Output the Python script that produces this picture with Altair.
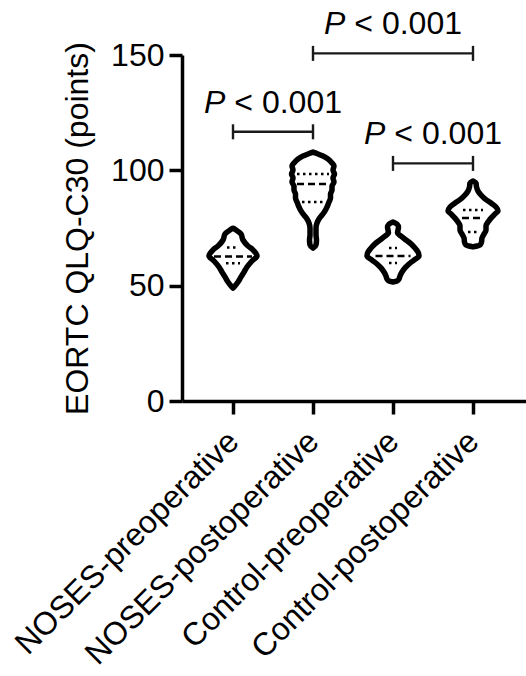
import altair as alt
import pandas as pd

FONT = "Liberation Sans"

GROUPS = ["NOSES-preoperative", "NOSES-postoperative",
          "Control-preoperative", "Control-postoperative"]
GROUP_POS = [1, 2, 3, 4]

# Violin outlines: score (points) and half-width (px-like density units)
V1_SCORE = [74.9, 74.1, 72.4, 69.8, 67.2, 65.5, 62.9, 60.7, 58.1, 55.9, 53.8, 51.6, 49.9, 49.0]
V1_WIDTH = [0, 3, 8, 10, 15, 20, 24, 19, 14, 11, 8, 5, 2, 0]

V2_SCORE = [107.9, 107.1, 106.2, 104.9, 103.2, 101.9, 100.1, 98.4, 96.7, 94.9, 93.2, 91.5,
            89.7, 88.0, 86.3, 84.1, 82.4, 80.6, 78.9, 77.2, 75.0, 72.0, 69.8, 67.6, 66.3]
V2_WIDTH = [0, 5, 10, 15, 19, 21, 20, 21.5, 20, 21, 19, 19, 17.5, 17.5, 16, 14, 12, 9, 6, 4,
            3, 3, 3.5, 3, 0]

V3_SCORE = [77.6, 76.7, 75.4, 74.1, 72.8, 71.5, 69.8, 68.1, 66.3, 64.6, 62.9, 61.1, 59.4,
            57.7, 55.9, 54.2, 52.9, 52.0, 51.6]
V3_WIDTH = [0, 4, 5.5, 5, 4.5, 8, 13, 18, 22, 25, 26, 21, 16, 12, 9, 7, 6, 4, 0]

V4_SCORE = [95.4, 94.5, 92.8, 91.0, 89.3, 87.6, 85.8, 84.1, 82.4, 81.1, 79.3, 77.6, 75.9,
            74.1, 72.4, 70.7, 68.9, 67.6, 66.8]
V4_WIDTH = [0, 3, 3.5, 5, 8, 12, 18, 23, 25, 22, 18, 15, 13, 13, 11, 9, 8.5, 7, 0]

# Median and quartile lines
MEDIAN = [62.6, 94.1, 62.9, 79.3]
MEDIAN_W = [19, 16, 17.5, 11]
Q1 = [59.7, 86.3, 59.8, 73.3]
Q1_W = [7, 11, 4, 5]
Q3 = [66.5, 98.4, 66.3, 82.8]
Q3_W = [6, 16, 4, 10]

# Significance brackets
B_FROM = [1, 2, 3]
B_TO = [2, 4, 4]
B_Y = [116.7, 150.7, 103.0]

WIDTH_SCALE = 1 / 80.0

rows = []
for g, scores, widths in zip(GROUP_POS, [V1_SCORE, V2_SCORE, V3_SCORE, V4_SCORE],
                             [V1_WIDTH, V2_WIDTH, V3_WIDTH, V4_WIDTH]):
    for s, w in zip(scores, widths):
        rows.append({"group": g, "score": s, "w": w})
violin_df = pd.DataFrame(rows)

med_df = pd.DataFrame({"group": GROUP_POS, "score": MEDIAN, "w": MEDIAN_W})
quart_df = pd.DataFrame({"group": GROUP_POS * 2, "score": Q1 + Q3, "w": Q1_W + Q3_W})
br_df = pd.DataFrame({"x1": B_FROM, "x2": B_TO, "y": B_Y})

x_scale = alt.Scale(domain=[0.3625, 4.6625], nice=False, zero=False)
y_scale = alt.Scale(domain=[0, 150], nice=False, zero=True)

label_expr = " : ".join(
    [f"datum.value == {p} ? '{n}'" for p, n in zip(GROUP_POS, GROUPS)]) + " : ''"

x_axis = alt.Axis(values=GROUP_POS, labelExpr=label_expr, title=None, grid=False,
                  domainColor="black", domainWidth=3.5, tickColor="black", tickWidth=3.5,
                  tickSize=13, labelAngle=-45, labelAlign="right", labelBaseline="middle",
                  labelPadding=22, labelFontSize=32, labelFont=FONT, labelColor="black",
                  labelOverlap=False, labelFlush=False, labelBound=False, labelLimit=0)
y_axis = alt.Axis(values=[0, 50, 100, 150], title="EORTC QLQ-C30 (points)", titleFontSize=32,
                  titleFont=FONT, titleFontWeight="normal", titleColor="black", titleAngle=270,
                  titleX=-95, titleY=173, titleAlign="center", titleBaseline="alphabetic",
                  grid=False, domainColor="black", domainWidth=3.5, tickColor="black",
                  tickWidth=3.5, tickSize=13, labelFontSize=32, labelFont=FONT,
                  labelColor="black", labelPadding=5, labelFlush=False, labelOverlap=False,
                  format="d")


def xenc(field):
    return alt.X(field, type="quantitative", scale=x_scale, axis=x_axis, stack=None)


def yenc(field):
    return alt.Y(field, type="quantitative", scale=y_scale, axis=y_axis)


calc = dict(xl=f"datum.group - datum.w * {WIDTH_SCALE}",
            xr=f"datum.group + datum.w * {WIDTH_SCALE}")

violins = alt.Chart(violin_df).transform_calculate(**calc).mark_area(
    orient="horizontal", fill="white", fillOpacity=1, stroke="black", strokeWidth=5.5,
    strokeJoin="round", interpolate="monotone"
).encode(y=yenc("score"), x=xenc("xl"), x2="xr:Q", detail="group:N")

medians = alt.Chart(med_df).transform_calculate(**calc).mark_rule(
    color="black", strokeWidth=2.5, strokeDash=[7, 4]
).encode(y=yenc("score"), x=xenc("xl"), x2="xr:Q")

quarts = alt.Chart(quart_df).transform_calculate(**calc).mark_rule(
    color="black", strokeWidth=2.5, strokeDash=[2.5, 3.5]
).encode(y=yenc("score"), x=xenc("xl"), x2="xr:Q")

br_h = alt.Chart(br_df).mark_rule(color="#1a1a1a", strokeWidth=2.4).encode(
    y=yenc("y"), x=xenc("x1"), x2="x2:Q")
br_l = alt.Chart(br_df).mark_rule(color="#1a1a1a", strokeWidth=2.4, yOffset=-7.5,
                                  y2Offset=7.5).encode(
    y=yenc("y"), y2="y:Q", x=xenc("x1"))
br_r = alt.Chart(br_df).mark_rule(color="#1a1a1a", strokeWidth=2.4, yOffset=-7.5,
                                  y2Offset=7.5).encode(
    y=yenc("y"), y2="y:Q", x=xenc("x2"))

txt_base = alt.Chart(br_df).transform_calculate(xm="(datum.x1 + datum.x2) / 2")
txt_p = txt_base.mark_text(text="P", fontStyle="italic", font=FONT, fontSize=32,
                           align="left", baseline="alphabetic", dx=-69, dy=-19,
                           color="black").encode(y=yenc("y"), x=xenc("xm"))
txt_v = txt_base.mark_text(text="< 0.001", font=FONT, fontSize=32, align="right",
                           baseline="alphabetic", dx=69, dy=-19,
                           color="black").encode(y=yenc("y"), x=xenc("xm"))

chart = alt.layer(violins, medians, quarts, br_h, br_l, br_r, txt_p, txt_v).properties(
    width=344, height=346,
    autosize=alt.AutoSizeParams(type="none"),
    padding={"left": 182, "top": 55, "right": 0, "bottom": 275},
).configure(font=FONT, background="white", view=alt.ViewConfig(stroke=None))

chart.save("out.html", embed_options={"renderer": "svg", "actions": False})
